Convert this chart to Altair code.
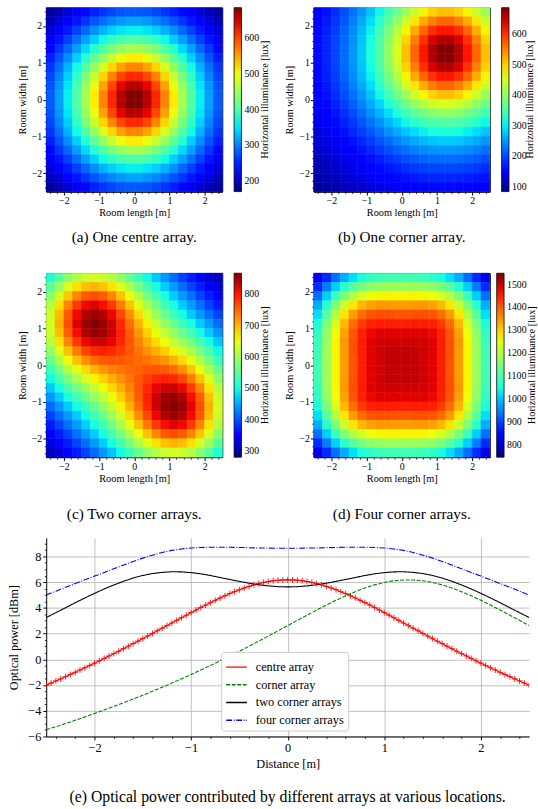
import altair as alt
import pandas as pd

SERIF = "Liberation Serif"

# ---------------- heat-map data (lux), rows from top (y=2.5) to bottom (y=-2.5) ----------------
edges = [-2.5, -2.25, -2.0, -1.75, -1.5, -1.25, -1.0, -0.75, -0.5, -0.25, 0.0,
         0.25, 0.5, 0.75, 1.0, 1.25, 1.5, 1.75, 2.0, 2.25, 2.5]
axis_ticks = [-2, -1, 0, 1, 2]
axis_minor_ticks = [-2.4, -2.2, -1.8, -1.6, -1.4, -1.2, -0.8, -0.6, -0.4, -0.2,
                    0.2, 0.4, 0.6, 0.8, 1.2, 1.4, 1.6, 1.8, 2.2, 2.4]

grid_centre = [
    [183, 196, 210, 224, 237, 250, 261, 270, 277, 280, 280, 277, 270, 261, 250, 237, 224, 210, 196, 183],
    [196, 212, 228, 245, 261, 277, 291, 303, 311, 316, 316, 311, 303, 291, 277, 261, 245, 228, 212, 196],
    [210, 228, 247, 267, 287, 307, 325, 340, 351, 356, 356, 351, 340, 325, 307, 287, 267, 247, 228, 210],
    [224, 245, 267, 291, 316, 340, 362, 381, 395, 402, 402, 395, 381, 362, 340, 316, 291, 267, 245, 224],
    [237, 261, 287, 316, 345, 375, 402, 427, 445, 454, 454, 445, 427, 402, 375, 345, 316, 287, 261, 237],
    [250, 277, 307, 340, 375, 410, 445, 475, 498, 510, 510, 498, 475, 445, 410, 375, 340, 307, 277, 250],
    [261, 291, 325, 362, 402, 445, 486, 523, 551, 567, 567, 551, 523, 486, 445, 402, 362, 325, 291, 261],
    [270, 303, 340, 381, 427, 475, 523, 567, 601, 619, 619, 601, 567, 523, 475, 427, 381, 340, 303, 270],
    [277, 311, 351, 395, 445, 498, 551, 601, 639, 661, 661, 639, 601, 551, 498, 445, 395, 351, 311, 277],
    [280, 316, 356, 402, 454, 510, 567, 619, 661, 684, 684, 661, 619, 567, 510, 454, 402, 356, 316, 280],
    [280, 316, 356, 402, 454, 510, 567, 619, 661, 684, 684, 661, 619, 567, 510, 454, 402, 356, 316, 280],
    [277, 311, 351, 395, 445, 498, 551, 601, 639, 661, 661, 639, 601, 551, 498, 445, 395, 351, 311, 277],
    [270, 303, 340, 381, 427, 475, 523, 567, 601, 619, 619, 601, 567, 523, 475, 427, 381, 340, 303, 270],
    [261, 291, 325, 362, 402, 445, 486, 523, 551, 567, 567, 551, 523, 486, 445, 402, 362, 325, 291, 261],
    [250, 277, 307, 340, 375, 410, 445, 475, 498, 510, 510, 498, 475, 445, 410, 375, 340, 307, 277, 250],
    [237, 261, 287, 316, 345, 375, 402, 427, 445, 454, 454, 445, 427, 402, 375, 345, 316, 287, 261, 237],
    [224, 245, 267, 291, 316, 340, 362, 381, 395, 402, 402, 395, 381, 362, 340, 316, 291, 267, 245, 224],
    [210, 228, 247, 267, 287, 307, 325, 340, 351, 356, 356, 351, 340, 325, 307, 287, 267, 247, 228, 210],
    [196, 212, 228, 245, 261, 277, 291, 303, 311, 316, 316, 311, 303, 291, 277, 261, 245, 228, 212, 196],
    [183, 196, 210, 224, 237, 250, 261, 270, 277, 280, 280, 277, 270, 261, 250, 237, 224, 210, 196, 183],
]

grid_corner = [
    [155, 169, 186, 205, 226, 250, 277, 307, 340, 375, 410, 445, 475, 498, 510, 510, 498, 475, 445, 410],
    [159, 174, 192, 212, 235, 261, 291, 325, 362, 402, 445, 486, 523, 551, 567, 567, 551, 523, 486, 445],
    [162, 178, 196, 218, 242, 270, 303, 340, 381, 427, 475, 523, 567, 601, 619, 619, 601, 567, 523, 475],
    [164, 181, 200, 222, 247, 277, 311, 351, 395, 445, 498, 551, 601, 639, 661, 661, 639, 601, 551, 498],
    [165, 182, 201, 224, 250, 280, 316, 356, 402, 454, 510, 567, 619, 661, 684, 684, 661, 619, 567, 510],
    [165, 182, 201, 224, 250, 280, 316, 356, 402, 454, 510, 567, 619, 661, 684, 684, 661, 619, 567, 510],
    [164, 181, 200, 222, 247, 277, 311, 351, 395, 445, 498, 551, 601, 639, 661, 661, 639, 601, 551, 498],
    [162, 178, 196, 218, 242, 270, 303, 340, 381, 427, 475, 523, 567, 601, 619, 619, 601, 567, 523, 475],
    [159, 174, 192, 212, 235, 261, 291, 325, 362, 402, 445, 486, 523, 551, 567, 567, 551, 523, 486, 445],
    [155, 169, 186, 205, 226, 250, 277, 307, 340, 375, 410, 445, 475, 498, 510, 510, 498, 475, 445, 410],
    [150, 164, 179, 196, 216, 237, 261, 287, 316, 345, 375, 402, 427, 445, 454, 454, 445, 427, 402, 375],
    [145, 158, 172, 187, 205, 224, 245, 267, 291, 316, 340, 362, 381, 395, 402, 402, 395, 381, 362, 340],
    [140, 151, 164, 178, 193, 210, 228, 247, 267, 287, 307, 325, 340, 351, 356, 356, 351, 340, 325, 307],
    [134, 144, 156, 168, 182, 196, 212, 228, 245, 261, 277, 291, 303, 311, 316, 316, 311, 303, 291, 277],
    [128, 137, 148, 159, 171, 183, 196, 210, 224, 237, 250, 261, 270, 277, 280, 280, 277, 270, 261, 250],
    [122, 130, 140, 149, 160, 171, 182, 193, 205, 216, 226, 235, 242, 247, 250, 250, 247, 242, 235, 226],
    [116, 124, 132, 140, 149, 159, 168, 178, 187, 196, 205, 212, 218, 222, 224, 224, 222, 218, 212, 205],
    [110, 117, 124, 132, 140, 148, 156, 164, 172, 179, 186, 192, 196, 200, 201, 201, 200, 196, 192, 186],
    [105, 111, 117, 124, 130, 137, 144, 151, 158, 164, 169, 174, 178, 181, 182, 182, 181, 178, 174, 169],
    [99, 105, 110, 116, 122, 128, 134, 140, 145, 150, 155, 159, 162, 164, 165, 165, 164, 162, 159, 155],
]

grid_two = [
    [509, 550, 585, 614, 632, 638, 632, 615, 590, 560, 530, 499, 469, 441, 415, 391, 369, 348, 328, 310],
    [550, 597, 640, 675, 697, 704, 695, 674, 644, 609, 571, 536, 503, 472, 443, 417, 393, 370, 348, 328],
    [585, 640, 691, 733, 759, 767, 757, 731, 695, 654, 613, 573, 536, 503, 471, 443, 418, 392, 370, 348],
    [614, 675, 733, 779, 810, 820, 807, 779, 738, 694, 650, 607, 569, 533, 501, 471, 444, 418, 393, 369],
    [632, 697, 759, 810, 844, 855, 843, 812, 772, 726, 680, 637, 598, 563, 530, 500, 471, 443, 417, 391],
    [638, 704, 767, 820, 855, 867, 857, 829, 791, 747, 704, 663, 626, 593, 560, 530, 501, 471, 443, 415],
    [632, 695, 757, 807, 843, 857, 851, 829, 796, 759, 722, 686, 654, 622, 593, 563, 533, 503, 472, 441],
    [615, 674, 731, 779, 812, 829, 829, 814, 790, 762, 734, 706, 680, 654, 626, 598, 569, 536, 503, 469],
    [590, 644, 695, 738, 772, 791, 796, 790, 777, 761, 742, 724, 706, 686, 663, 637, 607, 573, 536, 499],
    [560, 609, 654, 694, 726, 747, 759, 762, 761, 755, 750, 742, 734, 722, 704, 680, 650, 613, 571, 530],
    [530, 571, 613, 650, 680, 704, 722, 734, 742, 750, 755, 761, 762, 759, 747, 726, 694, 654, 609, 560],
    [499, 536, 573, 607, 637, 663, 686, 706, 724, 742, 761, 777, 790, 796, 791, 772, 738, 695, 644, 590],
    [469, 503, 536, 569, 598, 626, 654, 680, 706, 734, 762, 790, 814, 829, 829, 812, 779, 731, 674, 615],
    [441, 472, 503, 533, 563, 593, 622, 654, 686, 722, 759, 796, 829, 851, 857, 843, 807, 757, 695, 632],
    [415, 443, 471, 501, 530, 560, 593, 626, 663, 704, 747, 791, 829, 857, 867, 855, 820, 767, 704, 638],
    [391, 417, 443, 471, 500, 530, 563, 598, 637, 680, 726, 772, 812, 843, 855, 844, 810, 759, 697, 632],
    [369, 393, 418, 444, 471, 501, 533, 569, 607, 650, 694, 738, 779, 807, 820, 810, 779, 733, 675, 614],
    [348, 370, 392, 418, 443, 471, 503, 536, 573, 613, 654, 695, 731, 757, 767, 759, 733, 691, 640, 585],
    [328, 348, 370, 393, 417, 443, 472, 503, 536, 571, 609, 644, 674, 695, 704, 697, 675, 640, 597, 550],
    [310, 328, 348, 369, 391, 415, 441, 469, 499, 530, 560, 590, 615, 632, 638, 632, 614, 585, 550, 509],
]

grid_four = [
    [819, 878, 933, 983, 1023, 1053, 1073, 1084, 1089, 1090, 1090, 1089, 1084, 1073, 1053, 1023, 983, 933, 878, 819],
    [878, 945, 1010, 1068, 1114, 1147, 1167, 1177, 1180, 1180, 1180, 1180, 1177, 1167, 1147, 1114, 1068, 1010, 945, 878],
    [933, 1010, 1083, 1151, 1202, 1238, 1260, 1267, 1268, 1267, 1267, 1268, 1267, 1260, 1238, 1202, 1151, 1083, 1010, 933],
    [983, 1068, 1151, 1223, 1281, 1321, 1340, 1348, 1345, 1344, 1344, 1345, 1348, 1340, 1321, 1281, 1223, 1151, 1068, 983],
    [1023, 1114, 1202, 1281, 1344, 1385, 1406, 1410, 1409, 1406, 1406, 1409, 1410, 1406, 1385, 1344, 1281, 1202, 1114, 1023],
    [1053, 1147, 1238, 1321, 1385, 1427, 1450, 1455, 1454, 1451, 1451, 1454, 1455, 1450, 1427, 1385, 1321, 1238, 1147, 1053],
    [1073, 1167, 1260, 1340, 1406, 1450, 1473, 1483, 1482, 1481, 1481, 1482, 1483, 1473, 1450, 1406, 1340, 1260, 1167, 1073],
    [1084, 1177, 1267, 1348, 1410, 1455, 1483, 1494, 1496, 1496, 1496, 1496, 1494, 1483, 1455, 1410, 1348, 1267, 1177, 1084],
    [1089, 1180, 1268, 1345, 1409, 1454, 1482, 1496, 1501, 1503, 1503, 1501, 1496, 1482, 1454, 1409, 1345, 1268, 1180, 1089],
    [1090, 1180, 1267, 1344, 1406, 1451, 1481, 1496, 1503, 1505, 1505, 1503, 1496, 1481, 1451, 1406, 1344, 1267, 1180, 1090],
    [1090, 1180, 1267, 1344, 1406, 1451, 1481, 1496, 1503, 1505, 1505, 1503, 1496, 1481, 1451, 1406, 1344, 1267, 1180, 1090],
    [1089, 1180, 1268, 1345, 1409, 1454, 1482, 1496, 1501, 1503, 1503, 1501, 1496, 1482, 1454, 1409, 1345, 1268, 1180, 1089],
    [1084, 1177, 1267, 1348, 1410, 1455, 1483, 1494, 1496, 1496, 1496, 1496, 1494, 1483, 1455, 1410, 1348, 1267, 1177, 1084],
    [1073, 1167, 1260, 1340, 1406, 1450, 1473, 1483, 1482, 1481, 1481, 1482, 1483, 1473, 1450, 1406, 1340, 1260, 1167, 1073],
    [1053, 1147, 1238, 1321, 1385, 1427, 1450, 1455, 1454, 1451, 1451, 1454, 1455, 1450, 1427, 1385, 1321, 1238, 1147, 1053],
    [1023, 1114, 1202, 1281, 1344, 1385, 1406, 1410, 1409, 1406, 1406, 1409, 1410, 1406, 1385, 1344, 1281, 1202, 1114, 1023],
    [983, 1068, 1151, 1223, 1281, 1321, 1340, 1348, 1345, 1344, 1344, 1345, 1348, 1340, 1321, 1281, 1223, 1151, 1068, 983],
    [933, 1010, 1083, 1151, 1202, 1238, 1260, 1267, 1268, 1267, 1267, 1268, 1267, 1260, 1238, 1202, 1151, 1083, 1010, 933],
    [878, 945, 1010, 1068, 1114, 1147, 1167, 1177, 1180, 1180, 1180, 1180, 1177, 1167, 1147, 1114, 1068, 1010, 945, 878],
    [819, 878, 933, 983, 1023, 1053, 1073, 1084, 1089, 1090, 1090, 1089, 1084, 1073, 1053, 1023, 983, 933, 878, 819],
]

range_centre = [170, 686]
range_corner = [85, 686]
range_two = [280, 868]
range_four = [745, 1550]
bar_ticks_centre = [200, 300, 400, 500, 600]
bar_ticks_corner = [100, 200, 300, 400, 500, 600]
bar_ticks_two = [300, 400, 500, 600, 700, 800]
bar_ticks_four = [800, 900, 1000, 1100, 1200, 1300, 1400, 1500]

captions = ["(a) One centre array.", "(b) One corner array.",
            "(c) Two corner arrays.", "(d) Four corner arrays."]

# ---------------- line chart data (dBm) ----------------
series_names = ["centre array", "corner array", "two corner arrays", "four corner arrays"]

centre_x = [-2.5, -2.45, -2.4, -2.35, -2.3, -2.25, -2.2, -2.15, -2.1, -2.05, -2.0,
            -1.95, -1.9, -1.85, -1.8, -1.75, -1.7, -1.65, -1.6, -1.55, -1.5,
            -1.45, -1.4, -1.35, -1.3, -1.25, -1.2, -1.15, -1.1, -1.05, -1.0,
            -0.95, -0.9, -0.85, -0.8, -0.75, -0.7, -0.65, -0.6, -0.55, -0.5,
            -0.45, -0.4, -0.35, -0.3, -0.25, -0.2, -0.15, -0.1, -0.05, 0.0,
            0.05, 0.1, 0.15, 0.2, 0.25, 0.3, 0.35, 0.4, 0.45, 0.5,
            0.55, 0.6, 0.65, 0.7, 0.75, 0.8, 0.85, 0.9, 0.95, 1.0,
            1.05, 1.1, 1.15, 1.2, 1.25, 1.3, 1.35, 1.4, 1.45, 1.5,
            1.55, 1.6, 1.65, 1.7, 1.75, 1.8, 1.85, 1.9, 1.95, 2.0,
            2.05, 2.1, 2.15, 2.2, 2.25, 2.3, 2.35, 2.4, 2.45, 2.5]
centre_db = [-2.01, -1.85, -1.68, -1.52, -1.35, -1.18, -1.01, -0.83, -0.66, -0.48, -0.30,
             -0.12, 0.07, 0.26, 0.44, 0.63, 0.83, 1.02, 1.22, 1.41, 1.61,
             1.81, 2.01, 2.22, 2.42, 2.62, 2.82, 3.03, 3.23, 3.43, 3.63,
             3.83, 4.03, 4.22, 4.41, 4.59, 4.77, 4.94, 5.11, 5.26, 5.41,
             5.55, 5.67, 5.79, 5.89, 5.98, 6.05, 6.11, 6.15, 6.17, 6.18,
             6.17, 6.15, 6.11, 6.05, 5.98, 5.89, 5.79, 5.67, 5.55, 5.41,
             5.26, 5.11, 4.94, 4.77, 4.59, 4.41, 4.22, 4.03, 3.83, 3.63,
             3.43, 3.23, 3.03, 2.82, 2.62, 2.42, 2.22, 2.01, 1.81, 1.61,
             1.41, 1.22, 1.02, 0.83, 0.63, 0.44, 0.26, 0.07, -0.12, -0.30,
             -0.48, -0.66, -0.83, -1.01, -1.18, -1.35, -1.52, -1.68, -1.85, -2.01]

dist_x = [-2.5, -2.4, -2.3, -2.2, -2.1, -2.0, -1.9, -1.8, -1.7, -1.6, -1.5,
          -1.4, -1.3, -1.2, -1.1, -1.0, -0.9, -0.8, -0.7, -0.6, -0.5,
          -0.4, -0.3, -0.2, -0.1, 0.0, 0.1, 0.2, 0.3, 0.4, 0.5,
          0.6, 0.7, 0.8, 0.9, 1.0, 1.1, 1.2, 1.3, 1.4, 1.5,
          1.6, 1.7, 1.8, 1.9, 2.0, 2.1, 2.2, 2.3, 2.4, 2.5]
corner_db = [-5.48, -5.24, -4.99, -4.74, -4.48, -4.21, -3.94, -3.66, -3.38, -3.09, -2.79,
             -2.48, -2.17, -1.85, -1.52, -1.18, -0.83, -0.48, -0.12, 0.26, 0.63,
             1.02, 1.41, 1.81, 2.22, 2.62, 3.03, 3.43, 3.83, 4.22, 4.59,
             4.94, 5.26, 5.55, 5.79, 5.98, 6.11, 6.17, 6.17, 6.11, 5.98,
             5.79, 5.55, 5.26, 4.94, 4.59, 4.22, 3.83, 3.43, 3.03, 2.62]
two_db = [3.25, 3.63, 4.01, 4.40, 4.77, 5.13, 5.47, 5.78, 6.07, 6.32, 6.52,
          6.67, 6.76, 6.81, 6.80, 6.74, 6.65, 6.52, 6.36, 6.21, 6.06,
          5.92, 5.80, 5.71, 5.65, 5.63, 5.65, 5.71, 5.80, 5.92, 6.06,
          6.21, 6.36, 6.52, 6.65, 6.74, 6.80, 6.81, 6.76, 6.67, 6.52,
          6.32, 6.07, 5.78, 5.47, 5.13, 4.77, 4.40, 4.01, 3.63, 3.25]
four_db = [5.00, 5.30, 5.60, 5.89, 6.18, 6.47, 6.75, 7.04, 7.33, 7.61, 7.87,
           8.10, 8.31, 8.47, 8.58, 8.66, 8.70, 8.72, 8.72, 8.71, 8.70,
           8.68, 8.66, 8.65, 8.64, 8.64, 8.64, 8.65, 8.66, 8.68, 8.70,
           8.71, 8.72, 8.72, 8.70, 8.66, 8.58, 8.47, 8.31, 8.10, 7.87,
           7.61, 7.33, 7.04, 6.75, 6.47, 6.18, 5.89, 5.60, 5.30, 5.00]

x_ticks_line = [-2, -1, 0, 1, 2]
x_minor_line = [-2.4, -2.2, -1.8, -1.6, -1.4, -1.2, -0.8, -0.6, -0.4, -0.2,
                0.2, 0.4, 0.6, 0.8, 1.2, 1.4, 1.6, 1.8, 2.2, 2.4]
y_ticks_line = [-6, -4, -2, 0, 2, 4, 6, 8]
y_minor_line = [-5.5, -5, -4.5, -3.5, -3, -2.5, -1.5, -1, -0.5, 0.5, 1, 1.5,
                2.5, 3, 3.5, 4.5, 5, 5.5, 6.5, 7, 7.5, 8.5, 9]

# ---------------- styling ----------------
jet_stops = [0, 0.11, 0.125, 0.34, 0.35, 0.375, 0.64, 0.65, 0.66, 0.89, 0.91, 1]
jet_colours = ["#000080", "#0000ff", "#0000ff", "#00dbff", "#00e5f7", "#14ffe2",
               "#eeff08", "#f7f500", "#ffec00", "#ff1300", "#e80000", "#800000"]

HW, HH = 179, 187


def minor_axis(vals, orient):
    return alt.Axis(values=vals, orient=orient, labels=False, title=None, grid=False,
                    domain=False, ticks=True, tickSize=2, tickColor="black", tickWidth=0.8)


def heat_table(grid):
    n = len(grid)
    recs = []
    for r, row in enumerate(grid):
        for c, v in enumerate(row):
            recs.append({"x0": edges[c], "x1": edges[c + 1],
                         "y0": edges[n - 1 - r], "y1": edges[n - r],
                         "lux": v, "lux_edge": v})
    return pd.DataFrame(recs)


def heat_panel(grid, lux_range, bar_ticks, caption, cap_offset, bar_offset, title_x):
    lo, hi = lux_range
    dom = [lo + t * (hi - lo) for t in jet_stops]
    # the seam-hiding stroke scale gets a (visually identical) domain of its own so that
    # Vega-Lite does not merge it with the fill colour bar
    dom_edge = [d + 1e-6 for d in dom]
    cscale = alt.Scale(domain=dom, range=jet_colours, interpolate="rgb", clamp=True)
    escale = alt.Scale(domain=dom_edge, range=jet_colours, interpolate="rgb", clamp=True)
    pos = alt.Scale(domain=[-2.5, 2.5], nice=False, zero=False)
    ax = dict(values=axis_ticks, grid=False, labelFont=SERIF, titleFont=SERIF,
              labelFontSize=10, titleFontSize=10.5, titleFontWeight="normal",
              tickSize=3.5, tickColor="black", domainColor="black", format="d",
              labelColor="black", titleColor="black", labelPadding=1)
    table = heat_table(grid)
    rect = alt.Chart(table).mark_rect(strokeWidth=0.6).encode(
        x=alt.X("x0:Q", scale=pos, axis=alt.Axis(title="Room length [m]", titlePadding=2,
                                                orient="bottom", **ax)),
        x2="x1:Q",
        y=alt.Y("y0:Q", scale=pos, axis=alt.Axis(title="Room width [m]", titlePadding=4,
                                                orient="left", **ax)),
        y2="y1:Q",
        fill=alt.Fill("lux:Q", scale=cscale, legend=alt.Legend(
            title=None, values=bar_ticks, orient="right", offset=bar_offset, padding=0,
            gradientLength=HH, gradientThickness=7.5, gradientStrokeColor="black",
            gradientStrokeWidth=0.8, labelFont=SERIF, labelFontSize=10, format="d",
            labelColor="black", labelOffset=3, labelOverlap=False, direction="vertical",
            type="gradient")),
        stroke=alt.Stroke("lux_edge:Q", scale=escale, legend=None),
    )
    minor = alt.Chart(table).mark_rect(opacity=0).encode(
        x=alt.X("x0:Q", scale=pos, axis=minor_axis(axis_minor_ticks, "bottom")),
        x2="x1:Q",
        y=alt.Y("y0:Q", scale=pos, axis=minor_axis(axis_minor_ticks, "left")),
        y2="y1:Q",
    )
    bar_title = alt.Chart(pd.DataFrame({"t": ["Horizontal illuminance [lux]"]})).mark_text(
        angle=270, font=SERIF, fontSize=10.5, color="black").encode(
        text="t:N", x=alt.value(HW + title_x), y=alt.value(HH / 2))
    return alt.layer(rect, minor, bar_title).properties(
        width=HW, height=HH,
        view=alt.ViewBackground(stroke="black", strokeWidth=1),
        title=alt.TitleParams(caption, orient="bottom", anchor="middle", font=SERIF,
                              fontSize=15.5, fontWeight="normal", color="black",
                              offset=cap_offset),
    ).resolve_scale(fill="independent", stroke="independent").resolve_axis(
        x="independent", y="independent")


pa = heat_panel(grid_centre, range_centre, bar_ticks_centre, captions[0], 12, 12, 43)
pb = heat_panel(grid_corner, range_corner, bar_ticks_corner, captions[1], 12, 12, 41)
pc = heat_panel(grid_two, range_two, bar_ticks_two, captions[2], 24, 12, 43)
pd_ = heat_panel(grid_four, range_four, bar_ticks_four, captions[3], 24, 7, 43)

# ---------------- line chart ----------------
rows = []
for x, v in zip(centre_x, centre_db):
    rows.append({"d": x, "p": v, "s": series_names[0]})
for name, vals in zip(series_names[1:], [corner_db, two_db, four_db]):
    for x, v in zip(dist_x, vals):
        rows.append({"d": x, "p": v, "s": name})
line_df = pd.DataFrame(rows)

lx = alt.Scale(domain=[-2.5, 2.5], nice=False, zero=False)
ly = alt.Scale(domain=[-6, 9.45], nice=False, zero=False)
lax = dict(grid=True, gridColor="#b0b0b0", gridWidth=0.8, labelFont=SERIF, titleFont=SERIF,
           labelFontSize=12.5, titleFontSize=12.5, titleFontWeight="normal",
           tickSize=3.5, tickColor="black", domainColor="black", labelColor="black",
           titleColor="black", labelPadding=2, format="d", labelOverlap=False)
x_axis_line = alt.Axis(values=x_ticks_line, title="Distance [m]", titlePadding=4,
                       orient="bottom", **lax)
y_axis_line = alt.Axis(values=y_ticks_line, title="Optical power [dBm]", titlePadding=7,
                       orient="left", **lax)
legend_spec = alt.Legend(title=None, orient="none", legendX=178, legendY=116,
                         fillColor="white", strokeColor="#cccccc", cornerRadius=3,
                         padding=4, symbolType="stroke", symbolSize=441,
                         symbolStrokeWidth=1.5, labelFont=SERIF, labelFontSize=12.5,
                         labelColor="black", rowPadding=-3, labelOffset=8)

lines = alt.Chart(line_df).mark_line(strokeWidth=1.1, clip=True).encode(
    x=alt.X("d:Q", scale=lx, axis=x_axis_line),
    y=alt.Y("p:Q", scale=ly, axis=y_axis_line),
    color=alt.Color("s:N", scale=alt.Scale(domain=series_names,
                                           range=["#ff0000", "#008000", "#000000", "#0000ff"]),
                    legend=legend_spec, sort=series_names),
    strokeDash=alt.StrokeDash("s:N", scale=alt.Scale(domain=series_names,
                                                     range=[[1, 0], [4, 1.6], [1, 0], [6, 1.6, 1, 1.6]]),
                              legend=legend_spec, sort=series_names),
)
markers = alt.Chart(line_df).transform_filter(
    alt.datum.s == series_names[0]
).mark_point(shape="M-1,0L1,0M0,-1L0,1", size=36, filled=False, strokeWidth=1,
             color="#ff0000", opacity=0.85, clip=True).encode(
    x=alt.X("d:Q", scale=lx, axis=x_axis_line), y=alt.Y("p:Q", scale=ly, axis=y_axis_line))
line_minor = alt.Chart(line_df).mark_point(opacity=0).encode(
    x=alt.X("d:Q", scale=lx, axis=minor_axis(x_minor_line, "bottom")),
    y=alt.Y("p:Q", scale=ly, axis=minor_axis(y_minor_line, "left")),
)

line_chart = alt.layer(alt.layer(lines, markers), line_minor).resolve_axis(
    x="independent", y="independent").properties(
    width=491, height=202,
    view=alt.ViewBackground(stroke=None),
    title=alt.TitleParams("(e) Optical power contributed by different arrays at various locations.",
                          orient="bottom", anchor="middle", font=SERIF, fontSize=16,
                          fontWeight="normal", color="black", offset=19),
)

indep_s = dict(fill="independent", stroke="independent", color="independent",
               strokeDash="independent")
indep_l = dict(fill="independent", stroke="independent", color="independent",
               strokeDash="independent")

row1 = alt.hconcat(pa, pb, spacing=14).resolve_scale(**indep_s).resolve_legend(**indep_l)
row2 = alt.hconcat(pc, pd_, spacing=14).resolve_scale(**indep_s).resolve_legend(**indep_l)
row3 = alt.hconcat(line_chart)

top_rows = alt.vconcat(row1, row2, spacing=27).resolve_scale(**indep_s).resolve_legend(**indep_l)

chart = alt.vconcat(top_rows, row3, spacing=15).resolve_scale(**indep_s).resolve_legend(
    **indep_l).properties(
    padding={"left": 8, "top": 0, "right": 0, "bottom": 0}
).configure(background="white").configure_view(strokeWidth=1)

chart.save("out.html", embed_options={"renderer": "svg", "actions": False})
